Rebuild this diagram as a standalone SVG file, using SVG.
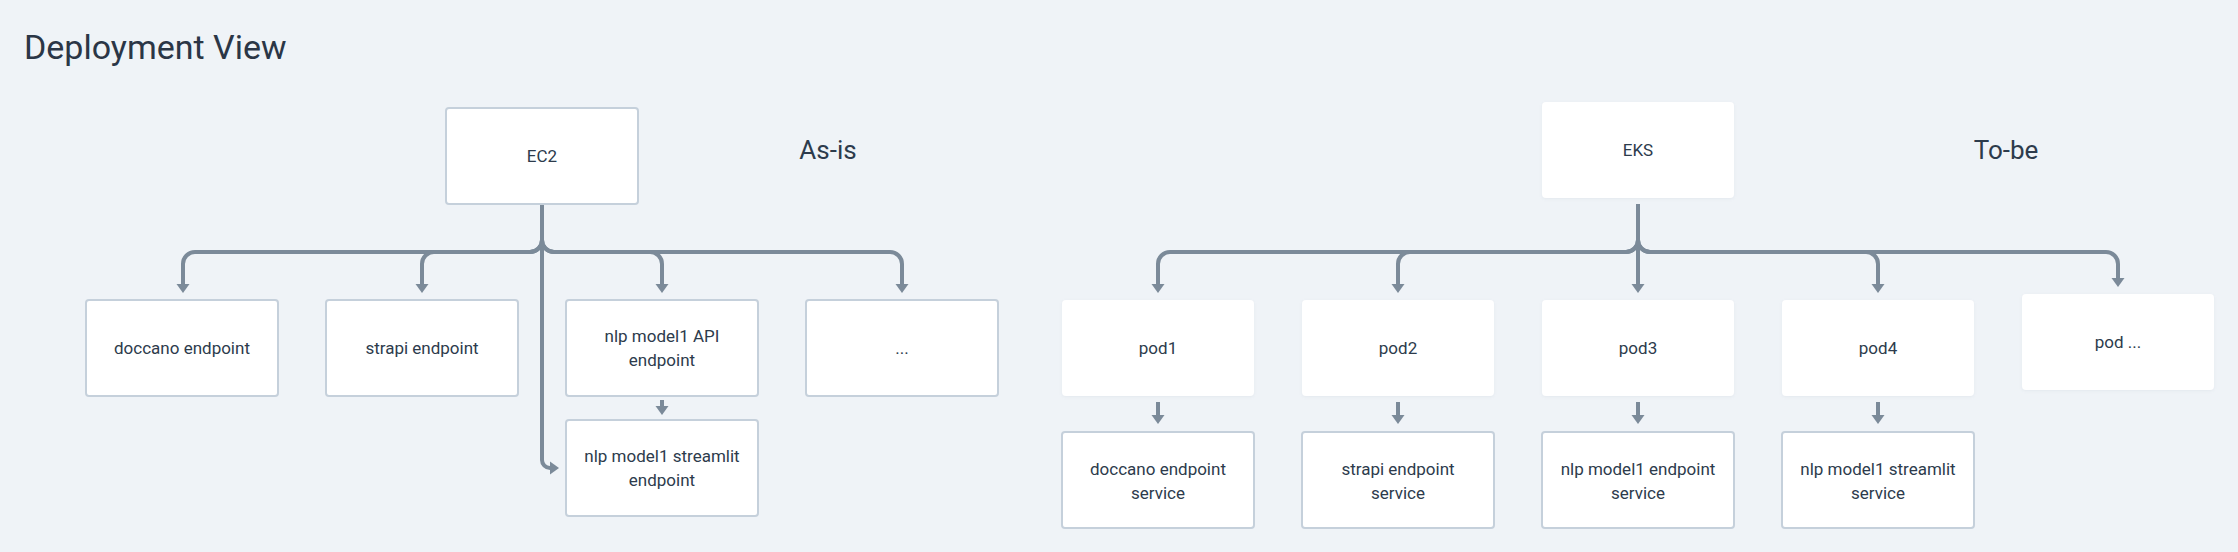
<svg xmlns="http://www.w3.org/2000/svg" width="2238" height="552" viewBox="0 0 2238 552">
<style>
.bg{fill:#eff3f7}
.box{fill:#ffffff;stroke:#c5d0db;stroke-width:2}
.plain{fill:#ffffff;filter:url(#sh)}
.lbl{font-family:Roboto,"Liberation Sans",sans-serif;font-size:17px;fill:#2d3b4c;text-anchor:middle}
.big{font-family:Roboto,"Liberation Sans",sans-serif;font-size:26px;fill:#2d3b4c;text-anchor:middle}
.title{font-family:Roboto,"Liberation Sans",sans-serif;font-size:34px;fill:#2b3646}
.c{fill:none;stroke:#7b8a99;stroke-width:4;marker-end:url(#ah)}
</style>
<defs>
<marker id="ah" markerUnits="userSpaceOnUse" markerWidth="10" markerHeight="14" viewBox="0 -7 10 14" refX="0" refY="0" orient="auto">
<path d="M0,-6.5 L9,0 L0,6.5 z" fill="#7b8a99"/>
</marker>
<filter id="sh" x="-10%" y="-10%" width="120%" height="130%">
<feDropShadow dx="0" dy="1" stdDeviation="1.5" flood-color="#8a9aab" flood-opacity="0.12"/>
</filter>
</defs>
<rect class="bg" x="0" y="0" width="2238" height="552"/>
<text class="title" x="24" y="59">Deployment View</text>
<text class="big" x="828" y="159">As-is</text>
<text class="big" x="2006" y="159">To-be</text>

<g id="connectors">
<path class="c" d="M542,204 V240 A12,12 0 0 1 530,252 H195 A12,12 0 0 0 183,264 V284"/>
<path class="c" d="M542,204 V240 A12,12 0 0 1 530,252 H434 A12,12 0 0 0 422,264 V284"/>
<path class="c" d="M542,204 V240 A12,12 0 0 0 554,252 H650 A12,12 0 0 1 662,264 V284"/>
<path class="c" d="M542,204 V240 A12,12 0 0 0 554,252 H890 A12,12 0 0 1 902,264 V284"/>
<path class="c" d="M542,204 V460 A8,8 0 0 0 550,468"/>
<path class="c" d="M662,400 V406"/>
<path class="c" d="M1638,204 V240 A12,12 0 0 1 1626,252 H1170 A12,12 0 0 0 1158,264 V284"/>
<path class="c" d="M1638,204 V240 A12,12 0 0 1 1626,252 H1410 A12,12 0 0 0 1398,264 V284"/>
<path class="c" d="M1638,204 V284"/>
<path class="c" d="M1638,204 V240 A12,12 0 0 0 1650,252 H1866 A12,12 0 0 1 1878,264 V284"/>
<path class="c" d="M1638,204 V240 A12,12 0 0 0 1650,252 H2106 A12,12 0 0 1 2118,264 V278"/>
<path class="c" d="M1158,402 V415"/>
<path class="c" d="M1398,402 V415"/>
<path class="c" d="M1638,402 V415"/>
<path class="c" d="M1878,402 V415"/>
</g>

<g id="ec2"><rect class="box" x="446" y="108" width="192" height="96" rx="3"/><text class="lbl" x="542" y="162">EC2</text></g>
<g id="doccano-endpoint"><rect class="box" x="86" y="300" width="192" height="96" rx="3"/><text class="lbl" x="182" y="354">doccano endpoint</text></g>
<g id="strapi-endpoint"><rect class="box" x="326" y="300" width="192" height="96" rx="3"/><text class="lbl" x="422" y="354">strapi endpoint</text></g>
<g id="nlp-api-endpoint"><rect class="box" x="566" y="300" width="192" height="96" rx="3"/><text class="lbl" x="662" y="342">nlp model1 API</text><text class="lbl" x="662" y="366">endpoint</text></g>
<g id="more-endpoints"><rect class="box" x="806" y="300" width="192" height="96" rx="3"/><text class="lbl" x="902" y="354">...</text></g>
<g id="nlp-streamlit-endpoint"><rect class="box" x="566" y="420" width="192" height="96" rx="3"/><text class="lbl" x="662" y="462">nlp model1 streamlit</text><text class="lbl" x="662" y="486">endpoint</text></g>

<g id="eks"><rect class="plain" x="1542" y="102" width="192" height="96" rx="4"/><text class="lbl" x="1638" y="156">EKS</text></g>
<g id="pod1"><rect class="plain" x="1062" y="300" width="192" height="96" rx="4"/><text class="lbl" x="1158" y="354">pod1</text></g>
<g id="pod2"><rect class="plain" x="1302" y="300" width="192" height="96" rx="4"/><text class="lbl" x="1398" y="354">pod2</text></g>
<g id="pod3"><rect class="plain" x="1542" y="300" width="192" height="96" rx="4"/><text class="lbl" x="1638" y="354">pod3</text></g>
<g id="pod4"><rect class="plain" x="1782" y="300" width="192" height="96" rx="4"/><text class="lbl" x="1878" y="354">pod4</text></g>
<g id="pod-more"><rect class="plain" x="2022" y="294" width="192" height="96" rx="4"/><text class="lbl" x="2118" y="348">pod ...</text></g>

<g id="doccano-service"><rect class="box" x="1062" y="432" width="192" height="96" rx="3"/><text class="lbl" x="1158" y="475">doccano endpoint</text><text class="lbl" x="1158" y="499">service</text></g>
<g id="strapi-service"><rect class="box" x="1302" y="432" width="192" height="96" rx="3"/><text class="lbl" x="1398" y="475">strapi endpoint</text><text class="lbl" x="1398" y="499">service</text></g>
<g id="nlp-endpoint-service"><rect class="box" x="1542" y="432" width="192" height="96" rx="3"/><text class="lbl" x="1638" y="475">nlp model1 endpoint</text><text class="lbl" x="1638" y="499">service</text></g>
<g id="nlp-streamlit-service"><rect class="box" x="1782" y="432" width="192" height="96" rx="3"/><text class="lbl" x="1878" y="475">nlp model1 streamlit</text><text class="lbl" x="1878" y="499">service</text></g>
</svg>
